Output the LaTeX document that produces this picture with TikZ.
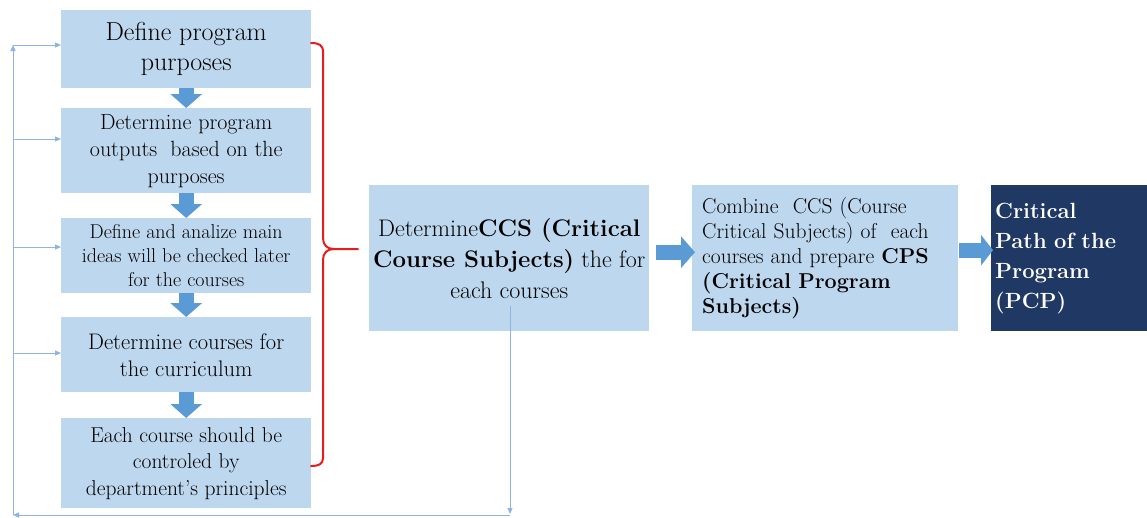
\documentclass[tikz,border=0pt]{standalone}
\usetikzlibrary{arrows.meta}

\begin{document}
\begin{tikzpicture}[x=1pt, y=-1pt, line join=round,
    stepbox/.style={fill=cBox, inner sep=4pt, align=center, anchor=north west, minimum width=250pt},
    blockarrow/.style={cArrow, line width=15pt, -{Triangle[width=31pt, length=14pt]}},
    fbline/.style={cLine, line width=1pt, -{Triangle[width=5pt, length=6pt]}}]
  \definecolor{cBox}{RGB}{189, 215, 238}
  \definecolor{cArrow}{RGB}{91, 155, 213}
  \definecolor{cLine}{RGB}{141, 180, 226}
  \definecolor{cNavy}{RGB}{31, 56, 100}
  \definecolor{cBrace}{RGB}{232, 28, 28}

  \useasboundingbox (0,0) rectangle (1147,517);

  % left column of steps
  \node[stepbox, minimum height=78pt, font=\fontsize{26}{30}\selectfont] (b1) at (61,10)
    {Define program\\purposes};
  \node[stepbox, minimum height=85pt, font=\fontsize{22}{27}\selectfont] (b2) at (61,108)
    {Determine program\\outputs\ \ based on the\\purposes};
  \node[stepbox, minimum height=75pt, font=\fontsize{20}{24}\selectfont] (b3) at (61,218)
    {Define and analize main\\ideas will be checked later\\for the courses};
  \node[stepbox, minimum height=75pt, font=\fontsize{22.5}{27}\selectfont] (b4) at (61,317)
    {Determine courses for\\the curriculum};
  \node[stepbox, minimum height=90pt, font=\fontsize{21.5}{26.5}\selectfont] (b5) at (61,418)
    {Each course should be\\controled by\\department’s principles};

  \foreach \a/\b in {b1/b2, b2/b3, b3/b4, b4/b5}
    \draw[blockarrow] (\a.south) -- (\b.north);

  % right part
  \node[stepbox, minimum width=279pt, minimum height=146pt, font=\fontsize{24}{31}\selectfont] (ccs) at (369,185)
    {Determine\textbf{CCS (Critical}\\\textbf{Course Subjects)} the for\\each courses};
  \node[stepbox, minimum width=266pt, minimum height=146pt, inner sep=10pt, text width=246pt, align=left,
    font=\fontsize{21.5}{25}\selectfont] (comb) at (692,185)
    {Combine\ \ CCS (Course\\Critical Subjects) of\ \ each\\courses and prepare \textbf{CPS}\\\textbf{(Critical Program}\\\textbf{Subjects)}};
  \node[stepbox, fill=cNavy, text=white, minimum width=156pt, minimum height=146pt, inner sep=4pt,
    text width=148pt, align=left, font=\bfseries\fontsize{22}{30}\selectfont] (pcp) at (991,185)
    {Critical\\Path of the\\Program\\(PCP)};

  \draw[blockarrow] ([xshift=6pt, yshift=6pt]ccs.east) -- ([xshift=3pt, yshift=6pt]comb.west);
  \draw[blockarrow, -{Triangle[width=30pt, length=12pt]}] ([xshift=1pt, yshift=8pt]comb.east) -- ([xshift=2pt, yshift=8pt]pcp.west);

  % red brace
  \draw[cBrace, line width=2pt, line cap=round]
    (311,43) .. controls (319,43) and (323,45) .. (323,52) -- (323,238)
    .. controls (323,245) and (327,249) .. (334,249) -- (358,249);
  \draw[cBrace, line width=2pt, line cap=round]
    (334,249) .. controls (327,249) and (323,253) .. (323,260) -- (323,458)
    .. controls (323,464) and (319,466) .. (311,466);

  % feedback loop
  \coordinate (fbtop) at (13,45);
  \coordinate (fbbot) at (13,515);
  \coordinate (ccsdrop) at (510,514);
  \draw[fbline] (510,306) -- (ccsdrop);
  \draw[fbline] (ccsdrop |- fbbot) -- (fbbot);
  \draw[fbline] (fbbot) -- (fbtop);
  \foreach \n/\y in {b1/45, b2/139, b3/247, b4/353}
    \draw[fbline] (13,\y) -- (\n.west |- 0,\y);
\end{tikzpicture}
\end{document}
